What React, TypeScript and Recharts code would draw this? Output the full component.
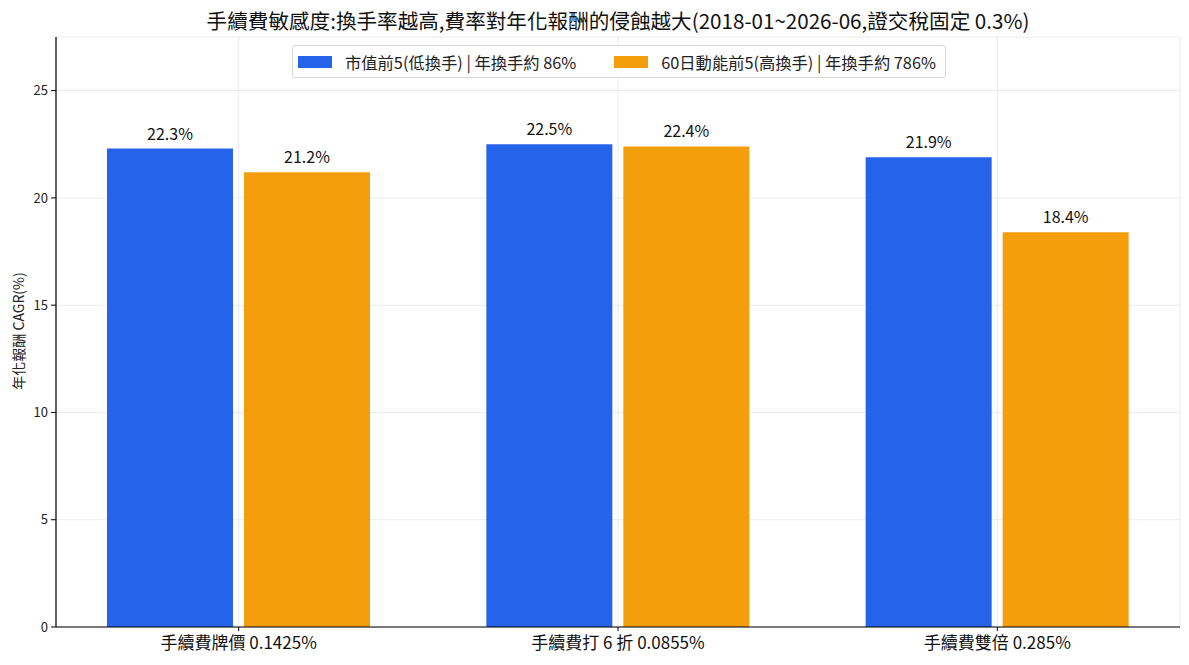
import React from 'react'
import {
  BarChart,
  Bar,
  XAxis,
  YAxis,
  CartesianGrid,
  Legend,
  LabelList,
} from 'recharts'

const categories = ['手續費牌價 0.1425%', '手續費打 6 折 0.0855%', '手續費雙倍 0.285%']
const lowTurnover = [22.3, 22.5, 21.9]
const highTurnover = [21.2, 22.4, 18.4]
const yTicks = [0, 5, 10, 15, 20, 25]

const LOW_NAME = '市值前5(低換手) | 年換手約 86%'
const HIGH_NAME = '60日動能前5(高換手) | 年換手約 786%'
const BLUE = '#2563eb'
const ORANGE = '#f59e0b'
const FONT = '"Noto Sans CJK TC", "Noto Sans", sans-serif'

const data = categories.map((name, i) => ({
  name,
  low: lowTurnover[i],
  high: highTurnover[i],
}))

function renderLegend() {
  const items = [
    { label: LOW_NAME, color: BLUE },
    { label: HIGH_NAME, color: ORANGE },
  ]
  return (
    <div
      style={{
        display: 'flex',
        alignItems: 'center',
        boxSizing: 'border-box',
        width: 654,
        height: 33,
        paddingLeft: 5,
        border: '1px solid #d8d8d8',
        borderRadius: 3,
        background: '#fff',
        fontFamily: FONT,
        fontSize: 16.3,
        lineHeight: '20px',
        color: '#222',
      }}
    >
      {items.map((it, i) => (
        <div key={i} style={{ display: 'flex', alignItems: 'center', marginRight: i === 0 ? 38 : 0 }}>
          <span style={{ width: 34, height: 12, background: it.color, marginRight: 13, display: 'inline-block' }} />
          <span>{it.label}</span>
        </div>
      ))}
    </div>
  )
}

function YLabel() {
  return (
    <text
      x={18}
      y={331}
      transform="rotate(-90 18 331)"
      textAnchor="middle"
      dominantBaseline="central"
      fontSize={14}
      fontFamily={FONT}
      fill="#222"
    >
      年化報酬 CAGR(%)
    </text>
  )
}

export default function App() {
  return (
    <div style={{ position: 'absolute', left: 0, top: 0, width: 1189, height: 665, background: '#fff' }}>
      <div
        style={{
          position: 'absolute',
          top: 8,
          left: 56,
          width: 1124,
          textAlign: 'center',
          fontFamily: FONT,
          fontSize: 20.6,
          lineHeight: '24px',
          color: '#111',
          zIndex: 2,
          whiteSpace: 'nowrap',
        }}
      >
        手續費敏感度:換手率越高,費率對年化報酬的侵蝕越大(2018-01~2026-06,證交稅固定 0.3%)
      </div>
      <BarChart
        width={1189}
        height={665}
        data={data}
        margin={{ top: 37, right: 9, bottom: 0, left: 0 }}
        barCategoryGap={58}
        barGap={11}
      >
        <CartesianGrid stroke="#ebebeb" strokeWidth={1} />
        <XAxis
          dataKey="name"
          height={38}
          padding={{ left: -7, right: -7 }}
          axisLine={{ stroke: '#000', strokeWidth: 1.2 }}
          tickLine={{ stroke: '#000' }}
          tickSize={4}
          tickMargin={6}
          tick={{ fontSize: 17, fill: '#111', fontFamily: FONT }}
          interval={0}
        />
        <YAxis
          width={56}
          domain={[0, 27.5]}
          ticks={yTicks}
          axisLine={{ stroke: '#000', strokeWidth: 1.2 }}
          tickLine={{ stroke: '#000' }}
          tickSize={5}
          tickMargin={3}
          tick={{ fontSize: 13, fill: '#222', fontFamily: FONT }}
          label={<YLabel />}
        />
        <Legend
          verticalAlign="middle"
          layout="horizontal"
          content={renderLegend}
          wrapperStyle={{ top: 45, left: 292, width: 654, height: 33 }}
        />
        <Bar dataKey="low" name={LOW_NAME} fill={BLUE} barSize={126} isAnimationActive={false}>
          <LabelList
            dataKey="low"
            position="top"
            offset={9}
            formatter={(v: number) => `${v.toFixed(1)}%`}
            style={{ fontSize: 16, fill: '#111', fontFamily: FONT }}
          />
        </Bar>
        <Bar dataKey="high" name={HIGH_NAME} fill={ORANGE} barSize={126} isAnimationActive={false}>
          <LabelList
            dataKey="high"
            position="top"
            offset={9}
            formatter={(v: number) => `${v.toFixed(1)}%`}
            style={{ fontSize: 16, fill: '#111', fontFamily: FONT }}
          />
        </Bar>
      </BarChart>
    </div>
  )
}
